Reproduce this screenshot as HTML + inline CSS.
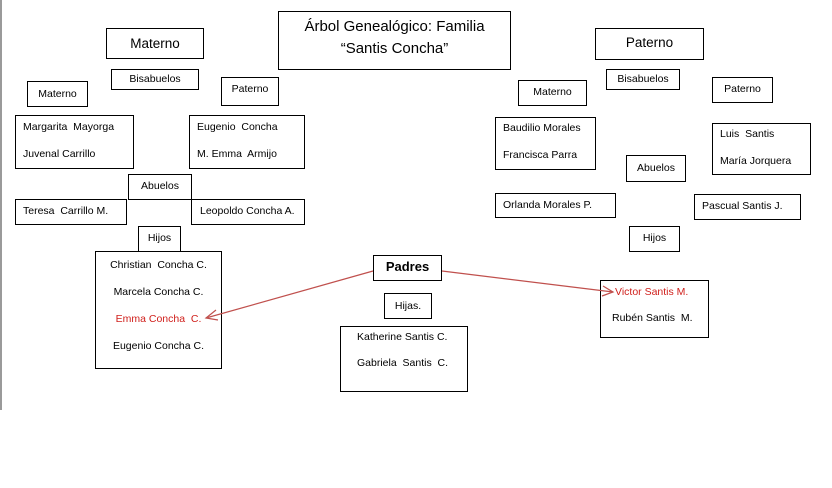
<!DOCTYPE html>
<html><head><meta charset="utf-8"><style>
body{margin:0;width:832px;height:488px;background:#fff;position:relative;overflow:hidden;font-family:"Liberation Sans",sans-serif;color:#000}
.b{position:absolute;border:1px solid #000;box-sizing:border-box;font-size:10.5px;background:#fff}
.c{text-align:center}
.t{position:absolute;font-size:10.5px;white-space:nowrap}
.r{color:#d0201c}
</style></head><body>
<div style="position:absolute;left:0;top:0;width:2px;height:410px;background:#9a9a9a"></div>
<div class="b c" style="left:278px;top:11px;width:233px;height:59px;font-size:15px;line-height:22px;padding-top:4px">Árbol Genealógico: Familia<br>“Santis Concha”</div>

<div class="b c" style="left:106px;top:28px;width:98px;height:31px;font-size:13.5px;line-height:29px">Materno</div>
<div class="b c" style="left:111px;top:69px;width:88px;height:21px;line-height:19px">Bisabuelos</div>
<div class="b c" style="left:27px;top:81px;width:61px;height:26px;line-height:24px">Materno</div>
<div class="b c" style="left:221px;top:77px;width:58px;height:29px;line-height:22px">Paterno</div>
<div class="b" style="left:15px;top:115px;width:119px;height:54px"><span class="t" style="left:7px;top:5px">Margarita&nbsp; Mayorga</span><span class="t" style="left:7px;top:32px">Juvenal Carrillo</span></div>
<div class="b" style="left:189px;top:115px;width:116px;height:54px"><span class="t" style="left:7px;top:5px">Eugenio&nbsp; Concha</span><span class="t" style="left:7px;top:32px">M. Emma&nbsp; Armijo</span></div>
<div class="b c" style="left:128px;top:174px;width:64px;height:26px;line-height:22px">Abuelos</div>
<div class="b" style="left:15px;top:199px;width:112px;height:26px"><span class="t" style="left:7px;top:5px">Teresa&nbsp; Carrillo M.</span></div>
<div class="b" style="left:191px;top:199px;width:114px;height:26px"><span class="t" style="left:8px;top:5px">Leopoldo Concha A.</span></div>
<div class="b c" style="left:138px;top:226px;width:43px;height:26px;line-height:22px">Hijos</div>
<div class="b c" style="left:95px;top:251px;width:127px;height:118px;line-height:27px">Christian&nbsp; Concha C.<br>Marcela Concha C.<br><span class="r">Emma Concha&nbsp; C.</span><br>Eugenio Concha C.</div>

<div class="b c" style="left:373px;top:255px;width:69px;height:26px;line-height:22px;font-size:13px;font-weight:bold">Padres</div>
<div class="b c" style="left:384px;top:293px;width:48px;height:26px;line-height:24px">Hijas.</div>
<div class="b" style="left:340px;top:326px;width:128px;height:66px"><span class="t" style="left:16px;top:4px">Katherine Santis C.</span><span class="t" style="left:16px;top:30px">Gabriela&nbsp; Santis&nbsp; C.</span></div>
<div class="b" style="left:600px;top:280px;width:109px;height:58px"><span class="t r" style="left:14px;top:5px">Victor Santis M.</span><span class="t" style="left:11px;top:31px">Rubén Santis&nbsp; M.</span></div>

<div class="b c" style="left:595px;top:28px;width:109px;height:32px;font-size:13.5px;line-height:28px">Paterno</div>
<div class="b c" style="left:606px;top:69px;width:74px;height:21px;line-height:19px">Bisabuelos</div>
<div class="b c" style="left:518px;top:80px;width:69px;height:26px;line-height:22px">Materno</div>
<div class="b c" style="left:712px;top:77px;width:61px;height:26px;line-height:22px">Paterno</div>
<div class="b" style="left:495px;top:117px;width:101px;height:53px"><span class="t" style="left:7px;top:4px">Baudilio Morales</span><span class="t" style="left:7px;top:31px">Francisca Parra</span></div>
<div class="b" style="left:712px;top:123px;width:99px;height:52px"><span class="t" style="left:7px;top:4px">Luis&nbsp; Santis</span><span class="t" style="left:7px;top:31px">María Jorquera</span></div>
<div class="b c" style="left:626px;top:155px;width:60px;height:27px;line-height:24px">Abuelos</div>
<div class="b" style="left:495px;top:193px;width:121px;height:25px"><span class="t" style="left:7px;top:5px">Orlanda Morales P.</span></div>
<div class="b" style="left:694px;top:194px;width:107px;height:26px"><span class="t" style="left:7px;top:5px">Pascual Santis J.</span></div>
<div class="b c" style="left:629px;top:226px;width:51px;height:26px;line-height:22px">Hijos</div>

<svg style="position:absolute;left:0;top:0" width="832" height="488">
<g stroke="#c0504d" stroke-width="1.2" fill="none">
<line x1="373" y1="271" x2="206" y2="318"/>
<polyline points="216,310 206,318 218,320"/>
<line x1="442" y1="271" x2="613" y2="292"/>
<polyline points="603,286 613,292 602,296"/>
</g></svg>
</body></html>
